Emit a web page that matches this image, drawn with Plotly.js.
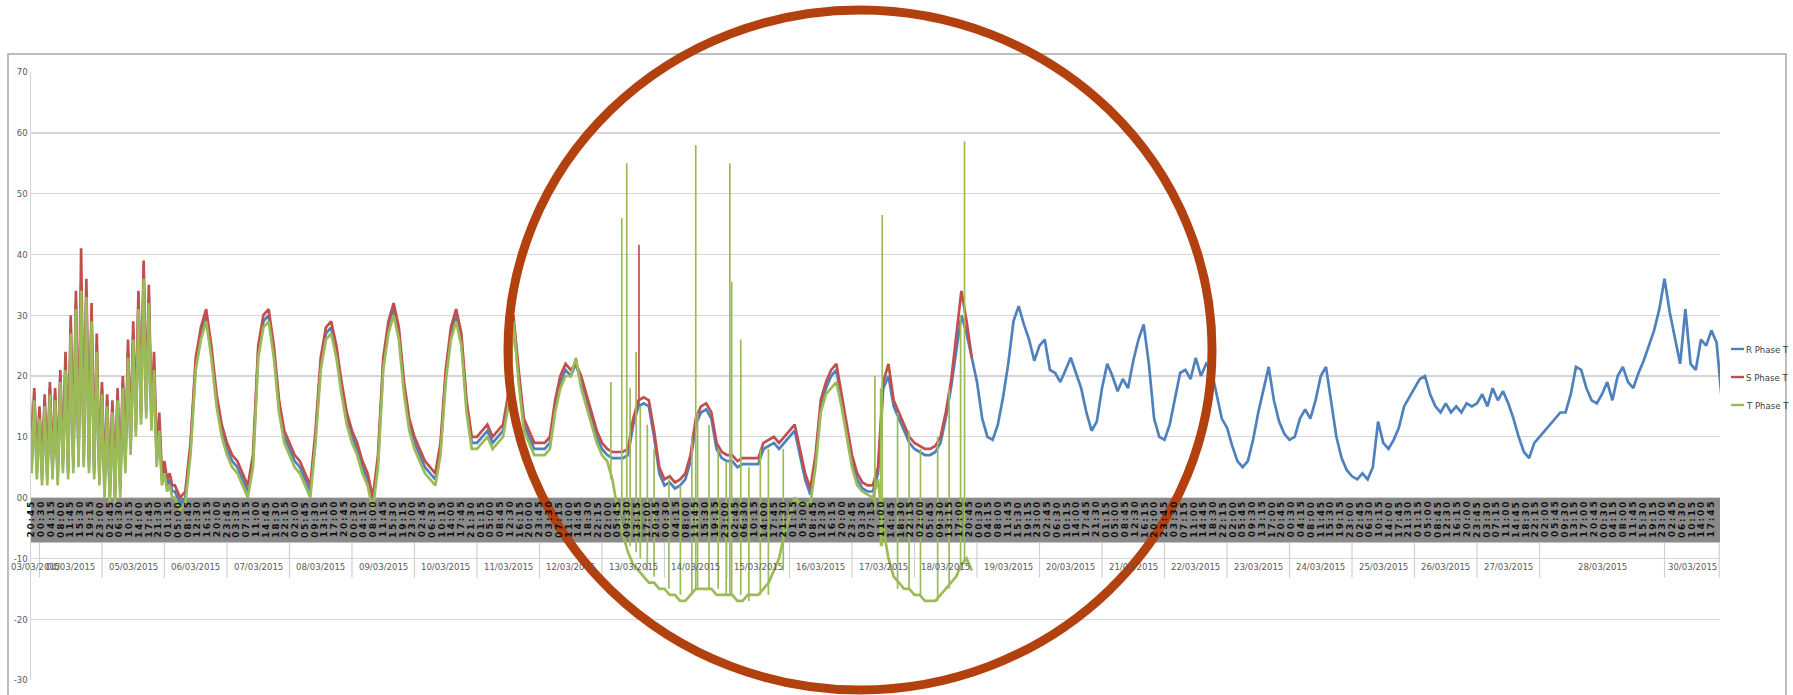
<!DOCTYPE html>
<html><head><meta charset="utf-8">
<script src="https://cdn.plot.ly/plotly-3.0.1.min.js"></script>
<style>html,body{margin:0;padding:0;background:#fff;}#chart{width:1793px;height:695px;}</style>
</head><body><div id="chart"></div>
<script>
// ---------------- DATA ----------------
// hours counted from 03/03/2015 00:00
const seriesNames = ["R Phase T", "S Phase T", "T Phase T"];
const earlyFirstHour = 20;   // hourly samples 03/03 20:00 .. 06/03 05:00
const mainFirstHour = 78;    // 2-hourly samples from 06/03 06:00
const mainStepHours = 2;
const dataEndHour = 669.3;

const rEarly = [
/*03*/ 19, 5, 17, 4,
/*04*/ 14, 3, 16, 3, 18, 4, 17, 3, 20, 5, 22, 4, 28, 5, 32, 6, 35, 6, 34, 5, 30, 4, 25, 3,
/*05*/ 18, 1, 16, 0, 15, 0, 17, 1, 19, 5, 24, 8, 27, 11, 32, 13, 37, 14, 33, 12, 22, 6, 12, 3,
/*06*/ 5, 2, 3, 1, 1, 0
];
const sEarly = [
/*03*/ 20, 6, 18, 5,
/*04*/ 15, 4, 17, 4, 19, 5, 18, 4, 21, 6, 24, 5, 30, 6, 34, 7, 41, 7, 36, 6, 32, 5, 27, 4,
/*05*/ 19, 2, 17, 1, 16, 1, 18, 2, 20, 6, 26, 9, 29, 12, 34, 14, 39, 15, 35, 13, 24, 7, 14, 4,
/*06*/ 6, 3, 4, 2, 2, 1
];
const tEarly = [
/*03*/ 18, 4, 16, 3,
/*04*/ 13, 2, 15, 2, 17, 3, 16, 2, 19, 4, 21, 3, 27, 4, 31, 5, 34, 5, 33, 4, 29, 3, 24, 2,
/*05*/ 17, 0, 15, -1, 14, -1, 16, 0, 18, 4, 23, 7, 26, 10, 31, 12, 36, 13, 32, 11, 21, 5, 11, 2,
/*06*/ 4, 1, 2, 0, 0, -1
];

const rMain = [
/*06*/ -1, 0, 8, 22, 27, 30, 24, 16, 11,
/*07*/ 8, 6, 5, 3, 1, 6, 24, 29, 30, 24, 15, 10,
/*08*/ 8, 6, 5, 3, 1, 10, 22, 27, 28, 24, 18, 13,
/*09*/ 10, 8, 5, 3, -1, 6, 22, 28, 31, 27, 18, 12,
/*10*/ 9, 7, 5, 4, 3, 8, 20, 27, 30, 26, 15, 9,
/*11*/ 9, 10, 11, 9, 10, 11, 16, 29, 20, 12, 10, 8,
/*12*/ 8, 8, 9, 15, 19, 21, 20, 22, 19, 16, 13, 10,
/*13*/ 8, 7, 6.5, 6.5, 6.5, 7, 12, 15, 15.5, 15, 10, 4,
/*14*/ 2, 2.5, 1.5, 2, 3, 6, 12, 14, 14.5, 13, 8, 6.5,
/*15*/ 6, 6, 5, 5.5, 5.5, 5.5, 5.5, 8, 8.5, 9, 8, 9,
/*16*/ 10, 11, 7, 3, 0.5, 6, 15, 18, 20, 21, 16, 11,
/*17*/ 6, 3, 1.5, 1, 1, 4, 18, 20, 15, 13, 11, 9,
/*18*/ 8, 7.5, 7, 7, 7.5, 9, 13, 18, 24, 30, 27, 23,
/*19*/ 19, 13, 10, 9.5, 12, 16.5, 22, 29, 31.5, 28.5, 26, 22.5,
/*20*/ 25, 26, 21, 20.5, 19, 21, 23, 20.5, 18, 14, 11, 12.5,
/*21*/ 18, 22, 20, 17.5, 19.5, 18, 22.5, 26, 28.5, 22, 13, 10,
/*22*/ 9.5, 12, 16, 20.5, 21, 19.5, 23, 20, 22, 21, 17, 13,
/*23*/ 11.5, 8.5, 6, 5, 6, 9.5, 14, 18, 21.5, 16, 12.5, 10.5,
/*24*/ 9.5, 10, 13, 14.5, 13, 16, 20, 21.5, 16, 10, 6.5, 4.5,
/*25*/ 3.5, 3, 4, 3, 5, 12.5, 9, 8, 9.5, 11.5, 15, 16.5,
/*26*/ 18, 19.5, 20, 17, 15, 14, 15.5, 14, 15, 14, 15.5, 15,
/*27*/ 15.5, 17, 15, 18, 16, 17.5, 15.5, 13, 10, 7.5, 6.5, 9,
/*28*/ 10, 11, 12, 13, 14, 14, 17, 21.5, 21, 18, 16, 15.5,
/*29*/ 17, 19, 16, 20, 21.5, 19, 18, 20.5, 22.5, 25, 27.5, 31,
/*30*/ 36, 30.5, 26, 22, 31, 22, 21, 26, 25, 27.5, 25.5, 16
];
const sMain = [
/*06*/ 0, 1, 9, 23, 28, 31, 25, 17, 12,
/*07*/ 9, 7, 6, 4, 2, 7, 25, 30, 31, 25, 16, 11,
/*08*/ 9, 7, 6, 4, 2, 11, 23, 28, 29, 25, 19, 14,
/*09*/ 11, 9, 6, 4, 0, 7, 23, 29, 32, 28, 19, 13,
/*10*/ 10, 8, 6, 5, 4, 9, 21, 28, 31, 27, 16, 10,
/*11*/ 10, 11, 12, 10, 11, 12, 17, 30, 21, 13, 11, 9,
/*12*/ 9, 9, 10, 16, 20, 22, 21, 22, 20, 17, 14, 11,
/*13*/ 9, 8, 7.5, 7.5, 7.5, 8, 13, 16, 16.5, 16, 11, 5,
/*14*/ 3, 3.5, 2.5, 3, 4, 7, 13, 15, 15.5, 14, 9, 7.5,
/*15*/ 7, 7, 6, 6.5, 6.5, 6.5, 6.5, 9, 9.5, 10, 9, 10,
/*16*/ 11, 12, 8, 4, 1.5, 7, 16, 19, 21, 22, 17, 12,
/*17*/ 7, 4, 2.5, 2, 2, 5, 19, 22, 16, 14, 12, 10,
/*18*/ 9, 8.5, 8, 8, 8.5, 10, 14, 19, 26, 34, 29, 23
];
const tMain = [
/*06*/ -2, -1, 7, 21, 26, 29, 23, 15, 10,
/*07*/ 7, 5, 4, 2, 0, 5, 23, 28, 29, 23, 14, 9,
/*08*/ 7, 5, 4, 2, 0, 9, 21, 26, 27, 23, 17, 12,
/*09*/ 9, 7, 4, 2, -2, 5, 21, 27, 30, 26, 17, 11,
/*10*/ 8, 6, 4, 3, 2, 7, 19, 26, 29, 25, 14, 8,
/*11*/ 8, 9, 10, 8, 9, 10, 15, 29, 19, 11, 9, 7,
/*12*/ 7, 7, 8, 14, 18, 20, 20, 23, 18, 15, 12, 9,
/*13*/ 7, 6, 3, -2, -6, -9, -11, -12, -13, -14, -14, -15,
/*14*/ -15, -16, -16, -17, -17, -16, -15, -15, -15, -15, -16, -16,
/*15*/ -16, -16, -17, -17, -16, -16, -16, -15, -14, -12, -10, -6,
/*16*/ -3, 0, -1, -1, -1, 5, 14, 17, 18, 19, 15, 10,
/*17*/ 5, 2, 1, 0.5, 0, 3, -5, -10, -13, -14, -15, -15,
/*18*/ -16, -16, -17, -17, -17, -16, -15, -14, -13, -11, -10, -12
];

// single-sample jumps (hour, low value, high value)
const tJumpHour = [243.4, 247.6, 249.5, 250.8, 253.1, 254.7, 257.4, 260.0, 265.7, 270.1, 274.5, 276.0, 276.7, 281.1, 284.6, 287.7, 289.1, 289.8, 293.3, 296.4, 300.8, 303.9, 309.6, 344.8, 347.0, 347.6, 353.5, 357.9, 362.3, 368.9, 373.3, 377.7, 379.2];
const tJumpLow  = [3, -3, -5, -8, -9, -10, -12, -13, -15, -16, -16, -15, -15, -15, -15, -16, -16, -16, -16, -17, -16, -16, -12, -2, -8, -8, -15, -15, -16, -17, -15, -12, -11];
const tJumpHigh = [19, 46, 55, 18, 24, 15, 12, 8, 3, 2, 10, 58, 14, 12, 8, 6, 55, 35.5, 26, 5, 8, 8, 8, 20, 18, 46.5, 14, 11, 8, 10, 18, 30, 58.6];
const sJumpHour = [254.2];
const sJumpLow  = [15];
const sJumpHigh = [41.6];

const timeLabelFirstHour = 20.75;
const timeLabelStepHours = 3.75;
const timeLabelCount = 173;

const dateLabels = ["03/03/2015","04/03/2015","05/03/2015","06/03/2015","07/03/2015","08/03/2015","09/03/2015","10/03/2015","11/03/2015","12/03/2015","13/03/2015","14/03/2015","15/03/2015","16/03/2015","17/03/2015","18/03/2015","19/03/2015","20/03/2015","21/03/2015","22/03/2015","23/03/2015","24/03/2015","25/03/2015","26/03/2015","27/03/2015","28/03/2015","30/03/2015"];

const yTickVals = [-30, -20, -10, 0, 10, 20, 30, 40, 50, 60, 70];
const yTickText = ["-30", "-20", "-10", "00", "10", "20", "30", "40", "50", "60", "70"];

// ---------------- BUILD ----------------
const colors = ["#4F81BD", "#C0504D", "#9BBB59"];
function series(early, main) {
  const x = [], y = [];
  early.forEach((v, i) => { x.push(earlyFirstHour + i); y.push(v); });
  main.forEach((v, i) => { x.push(mainFirstHour + i * mainStepHours); y.push(v); });
  return {x, y};
}
function jumps(h, lo, hi) {
  const x = [], y = [];
  h.forEach((v, i) => { x.push(v, v, null); y.push(lo[i], hi[i], null); });
  return {x, y};
}
const R = series(rEarly, rMain), S = series(sEarly, sMain), T = series(tEarly, tMain);
const tj = jumps(tJumpHour, tJumpLow, tJumpHigh);
const sj = jumps(sJumpHour, sJumpLow, sJumpHigh);

const LW = 2.7;
const traces = [
  {x: R.x, y: R.y, name: seriesNames[0], mode: 'lines', line: {color: colors[0], width: LW}},
  {x: S.x, y: S.y, name: seriesNames[1], mode: 'lines', line: {color: colors[1], width: LW}},
  {x: sj.x, y: sj.y, mode: 'lines', line: {color: colors[1], width: 1.7}, hoverinfo: 'skip'},
  {x: T.x, y: T.y, name: seriesNames[2], mode: 'lines', line: {color: colors[2], width: LW}},
  {x: tj.x, y: tj.y, mode: 'lines', line: {color: colors[2], width: 1.7}, hoverinfo: 'skip'}
];

function hhmm(h) {
  const m = Math.round((h % 24) * 60);
  return String(Math.floor(m / 60)).padStart(2, '0') + ':' + String(m % 60).padStart(2, '0');
}

// geometry (pixels of the 1793x695 canvas)
const W = 1793, H = 695;
const M = {l: 31, r: 73, t: 72, b: 15};
const PW = W - M.l - M.r, PH = H - M.t - M.b;
const px = x => (x - M.l) / PW;
const py = y => (H - M.b - y) / PH;
const YMIN = -30, YMAX = 70;
const bandBottom = -7.4;
const narrow = 'Liberation Sans Narrow, DejaVu Sans Condensed, sans-serif';

const shapes = [];
const annotations = [];

shapes.push({type: 'rect', xref: 'x', yref: 'y', x0: timeLabelFirstHour, x1: dataEndHour, y0: bandBottom, y1: 0,
  fillcolor: '#8a8a8a', line: {width: 0}, layer: 'below'});

// time-of-day labels inside the band
for (let k = 0; k < timeLabelCount; k++) {
  const h = timeLabelFirstHour + k * timeLabelStepHours;
  annotations.push({xref: 'x', yref: 'y', x: h, y: 0, yshift: -2, text: hhmm(h).split('').join('\u2009'),
    textangle: -90, showarrow: false, xanchor: 'center', yanchor: 'top',
    font: {family: 'DejaVu Sans, sans-serif', size: 9, color: '#111111', weight: 'bold'}});
}

const dayStart = lbl => (parseInt(lbl.slice(0, 2), 10) - 3) * 24;
dateLabels.forEach((lbl, i) => {
  const s = Math.max(dayStart(lbl), timeLabelFirstHour);
  const e = i + 1 < dateLabels.length ? dayStart(dateLabels[i + 1]) : dataEndHour;
  annotations.push({xref: 'x', yref: 'y', x: (s + e) / 2, y: -11.3, text: lbl, showarrow: false,
    font: {family: narrow, size: 9.5, color: '#595959'}, xanchor: 'center', yanchor: 'middle'});
  if (i > 0) shapes.push({type: 'line', xref: 'x', yref: 'y', x0: s, x1: s, y0: bandBottom, y1: -13.2,
    line: {color: '#d0d0d0', width: 1.2}, layer: 'below'});
});
shapes.push({type: 'line', xref: 'x', yref: 'y', x0: dataEndHour - 0.3, x1: dataEndHour - 0.3, y0: bandBottom, y1: -13.2,
  line: {color: '#d0d0d0', width: 1.2}, layer: 'below'});

// outer frame
shapes.push({type: 'rect', xref: 'paper', yref: 'paper', x0: px(8), x1: px(1786), y0: py(720), y1: py(54),
  line: {color: '#a8a8a8', width: 1.5}, fillcolor: 'rgba(0,0,0,0)', layer: 'above'});

// legend
seriesNames.forEach((n, i) => {
  const yy = 349 + i * 28;
  shapes.push({type: 'line', xref: 'paper', yref: 'paper', x0: px(1731), x1: px(1744), y0: py(yy), y1: py(yy),
    line: {color: colors[i], width: 2.4}});
  annotations.push({xref: 'paper', yref: 'paper', x: px(1744), y: py(yy), text: n, showarrow: false,
    xanchor: 'left', yanchor: 'middle', font: {family: narrow, size: 9.5, color: '#404040'}});
});

// highlight ellipse
shapes.push({type: 'circle', xref: 'paper', yref: 'paper', x0: px(508), x1: px(1212), y0: py(690), y1: py(10),
  line: {color: '#B3400F', width: 9}, fillcolor: 'rgba(0,0,0,0)', layer: 'above'});

const layout = {
  width: W, height: H, margin: M, paper_bgcolor: '#fff', plot_bgcolor: '#fff', showlegend: false,
  xaxis: {range: [timeLabelFirstHour, dataEndHour], showgrid: false, zeroline: false, showticklabels: false,
    showline: false, ticks: '', automargin: false},
  yaxis: {range: [YMIN, YMAX], tickmode: 'array', tickvals: yTickVals, ticktext: yTickText, showgrid: true,
    gridcolor: '#d6d6d6', gridwidth: 1.4, zeroline: false, showline: true, linecolor: '#d6d6d6', linewidth: 1.4, ticks: '',
    automargin: false, tickfont: {family: narrow, size: 9.5, color: '#595959'}},
  shapes: shapes, annotations: annotations
};

Plotly.newPlot('chart', traces, layout, {displayModeBar: false, staticPlot: true});
</script></body></html>
